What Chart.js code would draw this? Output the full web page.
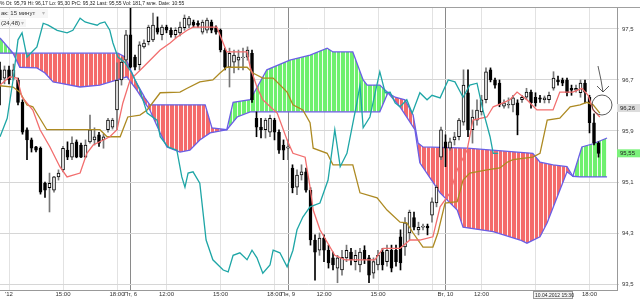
<!DOCTYPE html>
<html>
<head>
<meta charset="utf-8">
<script src="https://cdn.jsdelivr.net/npm/chart.js@4.4.1/dist/chart.umd.min.js"></script>
<style>
  html, body { margin: 0; padding: 0; background: #fff; }
  #wrap { width: 640px; height: 300px; position: relative; }
</style>
</head>
<body>
<div id="wrap"><canvas id="chart" width="640" height="300"></canvas></div>
<script>
// 15 minute bars, index 0 = Thu 5 Apr 11:30

const opens = [96.86,96.73,96.86,96.73,96.70,96.35,95.92,95.76,95.65,95.63,
  95.08,95.01,94.97,95.18,95.29,95.60,95.49,95.73,95.68,95.49,
  95.73,95.76,95.84,95.76,95.92,95.96,96.23,96.70,97.01,97.41,
  97.06,96.94,97.22,97.30,97.33,97.52,97.41,97.53,97.48,97.41,
  97.44,97.52,97.56,97.61,97.59,97.45,97.48,97.61,97.52,97.48,
  97.17,96.90,96.98,97.01,97.05,97.06,97.12,96.10,95.96,95.92,
  95.88,96.07,95.88,95.68,95.63,95.32,95.02,95.21,95.26,94.97,
  94.19,94.03,94.22,94.03,93.91,93.75,93.72,93.91,94.00,93.85,
  93.80,94.03,93.91,93.67,93.80,94.00,93.85,94.03,94.03,94.24,
  94.08,94.30,94.54,94.35,94.39,94.41,94.58,94.77,95.49,95.73,
  95.63,95.76,95.81,96.04,96.50,95.92,96.07,96.20,96.39,96.86,
  96.70,96.65,96.29,96.31,96.31,96.34,96.39,96.43,96.51,96.43,
  96.42,96.39,96.39,96.57,96.70,96.70,96.70,96.57,96.54,96.50,
  96.65,96.43,96.03,95.71];
const highs = [96.98,96.92,96.92,96.95,96.73,96.39,95.95,95.79,95.66,95.65,
  95.10,95.24,95.19,95.29,95.66,95.73,95.81,95.76,95.71,95.76,
  96.15,95.95,95.88,95.85,96.10,96.10,96.97,97.05,97.48,97.83,
  97.09,97.30,97.33,97.56,97.75,97.69,97.56,97.56,97.52,97.52,
  97.61,97.72,97.70,97.64,97.63,97.64,97.67,97.64,97.55,97.50,
  97.20,97.20,97.17,97.17,97.20,97.22,97.17,96.20,96.10,96.10,
  96.15,96.10,95.92,95.76,95.76,95.37,95.29,95.37,95.32,95.01,
  94.27,94.30,94.27,94.11,94.00,93.95,94.03,94.11,94.06,94.03,
  94.06,94.10,93.95,93.91,94.03,94.06,94.11,94.11,94.11,94.35,
  94.54,94.66,94.63,94.47,94.44,94.44,94.85,95.05,95.96,95.84,
  95.79,95.88,96.10,96.86,96.86,96.23,96.39,96.46,96.89,96.89,
  96.73,96.70,96.39,96.42,96.46,96.39,96.46,96.57,96.54,96.50,
  96.46,96.45,96.51,96.83,96.76,96.73,96.73,96.62,96.62,96.70,
  96.70,96.46,96.17,95.73];
const lows = [96.31,96.64,96.64,96.70,96.31,95.85,95.45,95.57,95.57,94.91,
  94.86,94.63,94.94,95.13,95.26,95.45,95.45,95.48,95.48,95.48,
  95.71,95.68,95.66,95.63,95.88,95.93,95.92,96.62,96.98,96.89,
  96.86,96.86,97.20,97.25,97.30,97.42,97.33,97.44,97.37,97.36,
  97.39,97.48,97.52,97.53,97.53,97.42,97.44,97.44,97.42,97.14,
  96.86,96.59,96.81,96.86,96.86,97.01,96.35,95.81,95.79,95.79,
  95.81,95.76,95.55,95.45,95.45,94.93,94.90,95.13,94.94,94.11,
  93.56,93.95,93.85,93.75,93.72,93.52,93.64,93.85,93.80,93.72,
  93.69,93.82,93.52,93.59,93.72,93.72,93.78,93.69,93.78,93.72,
  93.95,94.19,94.35,94.27,94.35,94.27,94.47,94.71,95.45,95.34,
  95.60,95.68,95.76,95.99,95.81,95.71,95.99,96.15,96.34,96.67,
  96.57,96.28,96.26,96.26,96.20,95.84,96.35,96.39,96.26,96.29,
  96.35,96.34,96.34,96.54,96.62,96.61,96.45,96.46,96.51,96.43,
  96.34,95.87,95.68,95.49];
const closes = [96.70,96.86,96.70,96.86,96.35,95.88,95.76,95.63,95.60,94.94,
  94.97,95.08,95.18,95.24,95.63,95.49,95.71,95.49,95.49,95.68,
  95.92,95.81,95.71,95.81,96.07,96.07,96.70,96.98,97.41,96.90,
  96.90,97.25,97.28,97.53,97.56,97.45,97.53,97.48,97.41,97.48,
  97.53,97.67,97.67,97.56,97.56,97.61,97.64,97.48,97.45,97.17,
  96.90,97.12,97.09,97.06,97.06,97.17,96.39,95.96,95.92,96.07,
  96.10,95.88,95.60,95.60,95.65,95.01,95.21,95.26,94.97,94.19,
  94.00,94.22,94.03,93.83,93.80,93.91,93.92,94.03,93.88,93.95,
  94.00,93.88,93.64,93.85,93.95,93.80,94.03,93.75,93.85,93.83,
  94.46,94.63,94.39,94.39,94.41,94.38,94.79,95.02,95.92,95.63,
  95.73,95.81,96.07,96.62,95.92,96.12,96.23,96.39,96.83,96.70,
  96.62,96.31,96.34,96.32,96.42,96.15,96.43,96.51,96.34,96.34,
  96.40,96.42,96.46,96.73,96.67,96.65,96.50,96.54,96.57,96.65,
  96.51,96.03,95.71,95.55];

// Ichimoku lines, [bar, price] at each vertex
const tenkan = [[0,96.62],[2.2,96.75],[3.8,96.73],[4.9,96.43],[7.3,96.23],[8.9,95.92],[11.1,95.65],
  [13.3,95.34],[14.9,95.18],[17.8,95.24],[19.3,95.55],[20.7,95.68],[24.4,95.81],[26,95.92],[27.3,96.34],
  [28.9,96.70],[31.8,96.90],[35.6,97.17],[37.8,97.28],[39.3,97.37],[41.6,97.48],[42.9,97.53],[48.2,97.53],
  [49.3,97.33],[50.4,97.14],[54.9,97.14],[55.6,96.90],[57.1,96.59],[58.4,96.39],[61.6,96.18],[63.8,95.76],
  [65.1,95.55],[67.8,95.49],[68.9,95.02],[69.6,94.66],[71.1,94.35],[74.4,93.95],[76.7,93.88],[83.3,93.88],
  [85.1,94.06],[88.9,94.06],[91.1,94.19],[93.3,94.19],[96.2,94.24],[97.8,94.71],[100,94.93],[101.6,95.29],
  [103.8,95.60],[105.1,96.07],[108.2,96.12],[109.6,96.28],[111.8,96.34],[113.3,96.39],[114.9,96.51],
  [117.1,96.39],[119.3,96.23],[122.9,96.23],[124.4,96.51],[127.3,96.51],[129.3,96.57],[130.7,96.46],
  [131.8,96.23],[133.3,96.12]];
const kijun = [[0,96.61],[2.9,96.59],[4.4,96.51],[6,96.31],[7.3,96.28],[10.4,95.92],[22.2,95.92],[23.8,95.81],
  [26.7,95.81],[28.4,96.12],[31.1,96.15],[32.7,96.23],[35.6,96.50],[40,96.51],[41.6,96.57],[44.4,96.67],
  [47.3,96.70],[48.9,96.81],[50.4,96.90],[54.9,96.90],[56.2,96.81],[58.4,96.73],[60.7,96.73],[63.8,96.51],
  [65.1,96.31],[67.3,96.23],[68.9,96.03],[69.6,95.63],[72.7,95.55],[74,95.37],[78.4,95.37],[80,94.93],
  [83.8,94.85],[86,94.66],[88.9,94.47],[90.4,94.46],[91.8,94.30],[94,94.08],[96.2,94.08],[97.3,94.30],
  [98.9,94.77],[101.6,94.79],[102.9,95.13],[104.4,95.24],[108.2,95.29],[111.1,95.32],[112.7,95.41],
  [114,95.45],[118.4,95.49],[120,95.55],[121.6,96.07],[124.4,96.10],[126.7,96.28],[128.9,96.31],
  [130.4,96.35],[131.8,96.31],[133.3,96.18]];
const chikou = [[0,95.81],[1.6,96.10],[2.9,96.70],[4,97.33],[4.9,97.44],[6,97.06],[8.2,97.22],[9.6,97.59],
  [10.7,97.56],[12.7,97.48],[14.9,97.44],[16.2,97.48],[17.8,97.67],[18.9,97.61],[20,97.59],[21.6,97.56],
  [22.2,97.59],[23.3,97.61],[24.4,97.48],[25.1,97.28],[26.2,97.06],[27.8,96.97],[29.3,96.81],[31.1,96.54],
  [32.7,96.18],[34.9,96.07],[35.6,95.81],[37.3,95.65],[39.3,95.60],[40.4,95.18],[41.1,95.02],[41.8,95.24],
  [42.9,95.26],[44.4,95.08],[45.8,94.19],[47.3,93.88],[49.6,93.72],[50.7,93.69],[51.8,93.95],[53.3,93.99],
  [54.9,93.88],[56,94.03],[57.1,93.91],[58.4,93.67],[60,93.80],[60.7,94.03],[62.2,93.99],[63.8,93.77],
  [65.1,94.03],[66,94.35],[67.3,94.55],[68.9,94.71],[71.1,94.77],[72.9,95.13],[74.4,95.92],[75.6,95.34],
  [77.1,95.55],[79.3,96.34],[80,96.62],[80.7,95.95],[82.2,96.12],[84.4,96.83],[85.6,96.50],[86.7,96.51],
  [87.8,96.34],[88.9,96.28],[90.4,96.39],[91.6,96.18],[93.3,96.50],[94.9,96.39],[96,96.46],[97.8,96.42],
  [99.6,96.70],[101.1,96.67],[102.9,96.43],[104.4,96.62],[106,96.65],[107.3,96.23],[108.9,95.81],
  [109.6,95.55],[110.7,95.55]];
const spanA = [[0,97.36],[2.9,97.12],[4.4,96.90],[8.2,96.89],[10,96.81],[11.8,96.67],[13.3,96.65],[17.8,96.59],
  [22.2,96.62],[26,96.70],[28.2,96.75],[30.4,96.54],[32.2,96.34],[33.3,96.23],[35.6,95.87],[37.1,95.65],
  [40,95.57],[42.2,95.60],[44.4,95.76],[46.7,95.87],[50.4,95.92],[51.8,96.35],[55.6,96.39],[59.3,96.86],
  [64.4,97.01],[68.9,97.09],[72.7,97.20],[74,97.14],[78.4,97.14],[80.7,96.70],[81.6,96.62],[84.4,96.62],
  [86.2,96.50],[88.9,96.28],[92.2,95.92],[93.3,95.40],[97.8,94.93],[101.6,94.66],[102.9,94.39],
  [109.6,94.32],[115.6,94.19],[117.1,94.14],[120,94.24],[121.6,94.46],[123.8,94.86],[126,95.26],
  [127.3,95.19],[129.3,95.65],[131.8,95.70],[134.9,95.79]];
const spanB = [[0,97.12],[26.2,97.12],[27.8,97.06],[30,96.70],[32.2,96.42],[33.3,96.31],[45.6,96.31],
  [47.1,95.95],[50.4,95.92],[52.7,96.12],[55.6,96.20],[84.4,96.20],[86.2,96.50],[87.8,96.43],[90,96.39],
  [91.8,96.15],[92.9,95.71],[94,95.65],[103.8,95.63],[118.4,95.55],[120,95.41],[122.9,95.37],[126,95.34],
  [127.3,95.19],[128.9,95.18],[134.9,95.18]];

// axis ticks
const timeTicks = [2, 14, 26, 29, 37, 49, 61, 64, 72, 84, 96, 99, 107, 119, 131];
const timeLabels = ["'12", '15:00', '18:00', 'Пт, 6', '12:00', '15:00', '18:00', 'Пн, 9',
  '12:00', '15:00', '', 'Вт, 10', '12:00', '', '18:00'];
const daySeps = [29, 64, 99];
const priceTicks = [97.5, 96.7, 95.9, 95.1, 94.3, 93.5];

const up = opens.map((o, i) => closes[i] >= o);
const toXY = pts => pts.map(p => ({ x: p[0], y: p[1] }));

function stripes(color) {
  const c = document.createElement('canvas');
  c.width = 9; c.height = 4;
  const g = c.getContext('2d');
  g.fillStyle = color;
  g.fillRect(0, 0, 9, 4);
  g.fillStyle = 'rgba(255,255,255,0.9)';
  g.fillRect(3, 0, 1, 4);
  g.fillRect(7, 0, 1, 4);
  return g.createPattern(c, 'repeat');
}
const redFill = stripes('#f46a6a');
const greenFill = stripes('#6ef06e');

const fmt = v => v.toFixed(1).replace('.', ',');

// header, overlays, price boxes and the hand drawn circle
const decor = {
  id: 'decor',
  afterDraw(chart) {
    const ctx = chart.ctx;
    const ys = chart.scales.y;
    ctx.save();
    ctx.fillStyle = '#fff';
    ctx.fillRect(0, 0, 640, 7);
    ctx.strokeStyle = '#a0a0a0';
    ctx.lineWidth = 1;
    ctx.beginPath(); ctx.moveTo(0, 7.5); ctx.lineTo(640, 7.5); ctx.stroke();
    ctx.fillStyle = '#222';
    ctx.font = '5px "Liberation Sans"';
    ctx.textBaseline = 'middle';
    ctx.fillText('% Ot: 95,79 Hi: 96,17 Lo: 95,30 PrC: 95,32 Last: 95,55 Vol: 181,7 млн. Date: 10:55', 0, 4);

    // overlay selectors
    ctx.font = '6px "Liberation Sans"';
    ctx.fillStyle = 'rgba(245,245,245,0.9)';
    ctx.fillRect(0, 9, 48, 9);
    ctx.fillRect(0, 19, 26, 8);
    ctx.fillStyle = '#333';
    ctx.fillText('ак: 15 минут', 1, 13.5);
    ctx.fillText('(24,48)', 1, 23);
    ctx.fillStyle = '#bbb';
    ctx.fillText('▾', 42, 13.5);
    ctx.fillText('▾', 21, 23);

    // price boxes on the axis
    const boxes = [[96.26, '96,26', '#dcdcdc'], [95.55, '95,55', '#7cf27c']];
    boxes.forEach(b => {
      const y = ys.getPixelForValue(b[0]);
      ctx.fillStyle = b[2];
      ctx.fillRect(617, y - 4, 23, 8);
      ctx.fillStyle = '#222';
      ctx.fillText(b[1], 620, y);
    });

    // crosshair time box
    ctx.fillStyle = '#f4f4f4';
    ctx.fillRect(533, 291, 40, 8);
    ctx.strokeStyle = '#999';
    ctx.strokeRect(533.5, 291.5, 39, 7);
    ctx.fillStyle = '#222';
    ctx.font = '5px "Liberation Sans"';
    ctx.fillText('10.04.2012 15:30', 535, 295.5);

    // hand drawn mark
    ctx.strokeStyle = '#333';
    ctx.lineWidth = 0.8;
    ctx.beginPath(); ctx.arc(602, 105, 10, 0, Math.PI * 2); ctx.stroke();
    ctx.beginPath();
    ctx.moveTo(598, 66); ctx.lineTo(601, 80); ctx.lineTo(603, 92);
    ctx.moveTo(597, 86); ctx.lineTo(603, 92); ctx.lineTo(609, 86);
    ctx.stroke();
    ctx.restore();
  }
};

const lineBase = { type: 'line', pointRadius: 0, borderWidth: 1.3, tension: 0, fill: false };

new Chart(document.getElementById('chart'), {
  type: 'line',
  data: {
    datasets: [
      { ...lineBase, label: 'Span A', data: toXY(spanA), borderColor: '#6a5ee6',
        fill: { target: 1, above: greenFill, below: redFill }, order: 6 },
      { ...lineBase, label: 'Span B', data: toXY(spanB), borderColor: '#6a5ee6', order: 5 },
      { type: 'bar', label: 'wick', data: opens.map((o, i) => ({ x: i, y: [lows[i], highs[i]] })),
        backgroundColor: c => up[c.dataIndex] ? '#777' : '#000', barThickness: 1, grouped: false, order: 4 },
      { type: 'bar', label: 'body', data: opens.map((o, i) => ({ x: i, y: [o, closes[i]] })),
        backgroundColor: c => up[c.dataIndex] ? '#fff' : '#000', borderColor: '#000', borderWidth: 1,
        borderSkipped: false, barThickness: 3, grouped: false, order: 3 },
      { ...lineBase, label: 'Kijun', data: toXY(kijun), borderColor: '#ad8a22', order: 2 },
      { ...lineBase, label: 'Tenkan', data: toXY(tenkan), borderColor: '#f26e6e', order: 1 },
      { ...lineBase, label: 'Chikou', data: toXY(chikou), borderColor: '#1ea6a6', order: 0 }
    ]
  },
  options: {
    responsive: false,
    animation: false,
    events: [],
    layout: { padding: { top: 7, left: 0, right: 0, bottom: 0 } },
    plugins: { legend: { display: false }, tooltip: { enabled: false } },
    scales: {
      x: {
        type: 'linear', min: 0, max: 137.11, offset: false,
        afterBuildTicks: s => { s.ticks = timeTicks.map(v => ({ value: v })); },
        afterFit: s => { s.height = 10; },
        ticks: { autoSkip: false, maxRotation: 0, padding: 1, color: '#333',
          font: { size: 6, family: 'Liberation Sans' }, callback: (v, i) => timeLabels[i] },
        grid: { drawTicks: false, offset: false,
          color: c => c.tick && daySeps.includes(c.tick.value) ? '#8a8a8a' : '#e2e2e2' },
        border: { color: '#999' }
      },
      y: {
        position: 'right', min: 93.406, max: 97.845,
        afterBuildTicks: s => { s.ticks = priceTicks.map(v => ({ value: v })); },
        afterFit: s => { s.width = 23; },
        ticks: { padding: 3, color: '#333', font: { size: 6, family: 'Liberation Sans' }, callback: v => fmt(v) },
        grid: { drawTicks: true, tickLength: 2, color: '#d6d6d6' },
        border: { color: '#999' }
      }
    }
  },
  plugins: [decor]
});
</script>
</body>
</html>
